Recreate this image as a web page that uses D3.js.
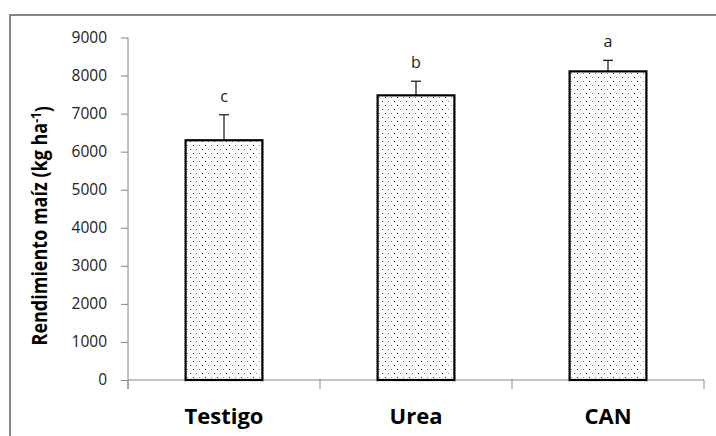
<!DOCTYPE html>
<html>
<head>
<meta charset="utf-8">
<script src="https://cdn.jsdelivr.net/npm/d3@7"></script>
<style>
  body { margin: 0; background: #fff; }
  svg { display: block; }
</style>
</head>
<body>
<div id="chart"></div>
<script>
// Data
const categories = ["Testigo", "Urea", "CAN"];
const yields = [6300, 7480, 8110];
const errors = [670, 370, 290];
const letters = ["c", "b", "a"];
const yTicks = [0, 1000, 2000, 3000, 4000, 5000, 6000, 7000, 8000, 9000];

const data = categories.map((c, i) => ({ cat: c, value: yields[i], err: errors[i], letter: letters[i] }));

const W = 716, H = 436;
const plot = { left: 128, right: 704, top: 37.5, bottom: 380 };
const axisColor = "#868686";

const svg = d3.select("#chart").append("svg")
    .attr("width", W)
    .attr("height", H);

// dotted fill like the Excel pattern
const defs = svg.append("defs");
const pat = defs.append("pattern")
    .attr("id", "dots")
    .attr("patternUnits", "userSpaceOnUse")
    .attr("width", 12)
    .attr("height", 8);
pat.append("rect").attr("width", 12).attr("height", 8).attr("fill", "#fff");
[[1, 1, "#111"], [7, 1, "#888"], [4, 5, "#888"], [10, 5, "#111"]].forEach(([px, py, c]) => {
    pat.append("rect").attr("x", px).attr("y", py).attr("width", 1).attr("height", 1).attr("fill", c);
});

// outer chart frame (top and left visible)
svg.append("path")
    .attr("d", `M10,${H} L10,15 L${W},15`)
    .attr("fill", "none")
    .attr("stroke", axisColor)
    .attr("stroke-width", 2);

const x = d3.scaleBand()
    .domain(categories)
    .range([plot.left, plot.right])
    .paddingInner(0.6)
    .paddingOuter(0.3);

const y = d3.scaleLinear()
    .domain([0, 9000])
    .range([plot.bottom, plot.top]);

// Y axis
const yAxis = svg.append("g")
    .attr("transform", `translate(${plot.left},0)`)
    .call(d3.axisLeft(y).tickValues(yTicks).tickFormat(d3.format("d"))
        .tickSize(7).tickPadding(14).tickSizeOuter(0));
yAxis.select(".domain").remove();
yAxis.selectAll(".tick line").attr("stroke", axisColor);
yAxis.selectAll(".tick text")
    .attr("fill", "#222")
    .style("font-family", "'Open Sans', sans-serif")
    .style("font-size", "15.5px");

svg.append("line")
    .attr("x1", plot.left).attr("x2", plot.left)
    .attr("y1", y(9000)).attr("y2", plot.bottom + 9)
    .attr("stroke", axisColor);

// X axis
svg.append("line")
    .attr("x1", plot.left).attr("x2", plot.right)
    .attr("y1", plot.bottom).attr("y2", plot.bottom)
    .attr("stroke", axisColor);

// category boundary ticks
const bounds = d3.range(categories.length + 1).map(i => plot.left + i * x.step());
svg.selectAll(".ctick")
    .data(bounds)
    .enter().append("line")
    .attr("class", "ctick")
    .attr("x1", d => d).attr("x2", d => d)
    .attr("y1", plot.bottom).attr("y2", plot.bottom + 9)
    .attr("stroke", axisColor);

const xAxis = svg.append("g")
    .attr("transform", `translate(0,${plot.bottom})`)
    .call(d3.axisBottom(x).tickSize(0).tickPadding(28));
xAxis.select(".domain").remove();
xAxis.selectAll(".tick text")
    .attr("fill", "#000")
    .style("font-family", "'Open Sans', sans-serif")
    .style("font-weight", "bold")
    .style("font-size", "22px");

// Bars
svg.selectAll(".bar")
    .data(data)
    .enter().append("rect")
    .attr("class", "bar")
    .attr("x", d => x(d.cat))
    .attr("y", d => y(d.value))
    .attr("width", x.bandwidth())
    .attr("height", d => y(0) - y(d.value))
    .attr("fill", "url(#dots)")
    .attr("stroke", "#000")
    .attr("stroke-width", 2.2);

// Error bars (upper only)
const cx = d => x(d.cat) + x.bandwidth() / 2;
svg.selectAll(".err")
    .data(data)
    .enter().append("line")
    .attr("class", "err")
    .attr("x1", cx).attr("x2", cx)
    .attr("y1", d => y(d.value) - 1)
    .attr("y2", d => y(d.value + d.err))
    .attr("stroke", "#222")
    .attr("stroke-width", 1.3);
svg.selectAll(".cap")
    .data(data)
    .enter().append("line")
    .attr("class", "cap")
    .attr("x1", d => cx(d) - 5).attr("x2", d => cx(d) + 5)
    .attr("y1", d => y(d.value + d.err))
    .attr("y2", d => y(d.value + d.err))
    .attr("stroke", "#222")
    .attr("stroke-width", 1.3);

// Significance letters
svg.selectAll(".letter")
    .data(data)
    .enter().append("text")
    .attr("class", "letter")
    .attr("x", cx)
    .attr("y", d => y(d.value + d.err) - 13)
    .attr("text-anchor", "middle")
    .attr("fill", "#222")
    .style("font-family", "'Open Sans', sans-serif")
    .style("font-size", "16px")
    .text(d => d.letter);

// Y axis title (slightly widened like the stretched original)
const yTitle = svg.append("text")
    .attr("transform", `translate(47,${(y(9000) + y(0)) / 2 + 17}) scale(1.18,1) rotate(-90)`)
    .attr("text-anchor", "middle")
    .attr("fill", "#000")
    .style("font-family", "'Open Sans', sans-serif")
    .style("font-weight", "bold")
    .style("font-size", "18px");
yTitle.append("tspan").text("Rendimiento maíz (kg ha");
yTitle.append("tspan").attr("dy", "-0.45em").style("font-size", "12px").text("-1");
yTitle.append("tspan").attr("dy", "0.45em").text(")");
</script>
</body>
</html>
